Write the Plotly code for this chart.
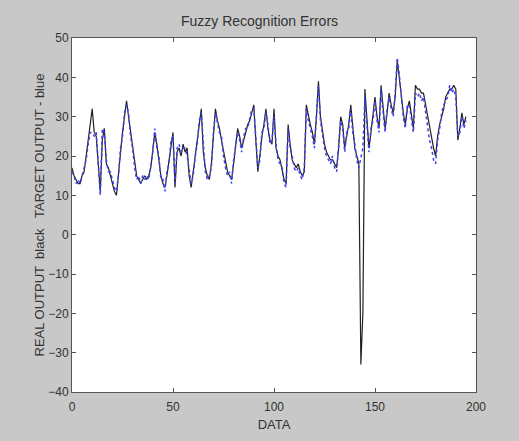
import plotly.graph_objects as go

data_index = list(range(196))

real_output = [
    17, 15, 14, 13, 13, 15, 16, 20, 24, 28,
    32, 26, 25, 18, 11, 24, 27, 18, 17, 15,
    13, 11, 10, 16, 21, 26, 30, 34, 30, 26,
    22, 18, 15, 14, 13, 14, 15, 14, 15, 17,
    22, 26, 23, 19, 15, 13, 12, 15, 19, 23,
    26, 12, 21, 22, 20, 23, 21, 22, 15, 12,
    16, 19, 24, 28, 32, 21, 17, 15, 14, 18,
    25, 32, 29, 27, 24, 21, 18, 16, 15, 14,
    18, 23, 27, 25, 22, 24, 26, 28, 29, 31,
    33, 24, 16, 20, 25, 28, 32, 27, 24, 23,
    32, 22, 20, 19, 16, 14, 13, 28, 23, 19,
    18, 17, 18, 16, 15, 16, 33, 30, 28, 26,
    23, 30, 39, 30, 26, 23, 21, 20, 19, 19,
    18, 17, 22, 30, 28, 22, 25, 28, 33, 27,
    22, 20, 18, -33, -20, 37, 28, 22, 26, 30,
    35, 30, 27, 38, 32, 27, 31, 36, 33, 31,
    35, 44, 40, 35, 31, 28, 32, 34, 30, 27,
    38, 37, 37, 36, 36, 33, 30, 27, 25, 22,
    20, 25, 28, 30, 32, 35, 36, 37, 37, 38,
    37, 24, 27, 31, 28, 30,
]

target_output = [
    16, 15, 13, 14, 13, 15, 17, 19, 23, 26,
    26, 25, 26, 17, 10, 27, 26, 19, 16, 16,
    14, 12, 11, 15, 22, 25, 31, 33, 31, 25,
    22, 17, 14, 15, 13, 15, 14, 15, 14, 18,
    21, 27, 22, 20, 14, 14, 11, 16, 18, 24,
    25, 13, 22, 23, 21, 22, 22, 20, 16, 13,
    15, 20, 23, 29, 31, 22, 16, 14, 15, 17,
    26, 31, 28, 26, 25, 20, 17, 15, 16, 13,
    19, 22, 26, 24, 21, 25, 27, 27, 30, 32,
    32, 23, 17, 19, 26, 27, 31, 28, 23, 24,
    30, 23, 19, 18, 17, 13, 12, 27, 22, 20,
    17, 16, 17, 15, 14, 17, 32, 29, 27, 25,
    22, 31, 38, 29, 25, 22, 20, 19, 18, 20,
    17, 16, 23, 29, 27, 21, 26, 27, 32, 26,
    23, 19, 17, 20, 22, 35, 27, 21, 27, 29,
    34, 29, 26, 37, 31, 26, 32, 35, 32, 30,
    36, 45, 41, 36, 30, 27, 33, 33, 29, 26,
    36, 35, 36, 34, 35, 31, 28, 24, 22, 19,
    18, 24, 27, 31, 33, 34, 35, 38, 36, 37,
    35, 25, 26, 30, 27, 29,
]

x_ticks = [0, 50, 100, 150, 200]
y_ticks = [-40, -30, -20, -10, 0, 10, 20, 30, 40, 50]

fig = go.Figure()
fig.add_trace(go.Scatter(x=data_index, y=real_output, mode="lines",
                         line=dict(color="#222222", width=1.2), name="real"))
fig.add_trace(go.Scatter(x=data_index, y=target_output, mode="lines",
                         line=dict(color="#4040ee", width=1.5, dash="dot"), name="target"))

axis_common = dict(showline=True, linecolor="#555555", linewidth=1, mirror="ticks",
                   ticks="inside", ticklen=4, tickcolor="#555555", showgrid=False,
                   zeroline=False, tickfont=dict(family="Liberation Sans", size=12, color="#333333"))

fig.update_layout(
    width=519, height=441,
    paper_bgcolor="#c8c8c8", plot_bgcolor="white",
    margin=dict(l=72, r=43, t=38, b=49),
    showlegend=False,
    title=dict(text="Fuzzy Recognition Errors", x=0.5, xanchor="center", y=0.953, yanchor="middle",
               font=dict(family="Liberation Sans", size=14, color="#333333")),
    xaxis=dict(range=[0, 200], tickvals=x_ticks, ticklabelstandoff=4,
               title=dict(text="DATA", standoff=6,
                          font=dict(family="Liberation Sans", size=13, color="#333333")),
               **axis_common),
    yaxis=dict(range=[-40, 50], tickvals=y_ticks,
               title=dict(text="REAL OUTPUT  black   TARGET OUTPUT - blue", standoff=0,
                          font=dict(family="Liberation Sans", size=13, color="#333333")),
               **axis_common),
)

fig.write_html("out.html")
